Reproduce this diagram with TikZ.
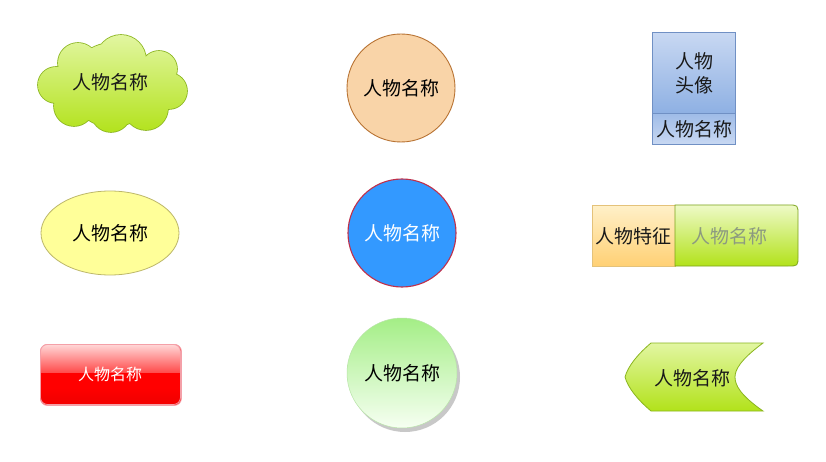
\documentclass[tikz,border=0pt]{standalone}
\usepackage{fontspec}
\newfontfamily\cjk{Noto Sans CJK SC}
\usetikzlibrary{shapes.symbols,shapes.geometric,shadows}
\definecolor{gtop}{HTML}{E2F6A2}
\definecolor{gbot}{HTML}{B2E21A}
\definecolor{gline}{HTML}{8AB51E}
\definecolor{orfill}{HTML}{F9D4A8}
\definecolor{orline}{HTML}{B87333}
\definecolor{btop}{HTML}{C8D8F2}
\definecolor{bbot}{HTML}{8EB0E3}
\definecolor{bline}{HTML}{7090C4}
\definecolor{yfill}{HTML}{FFFF99}
\definecolor{yline}{HTML}{BDB86A}
\definecolor{bluefill}{HTML}{3399FF}
\definecolor{blueline}{HTML}{C0304A}
\definecolor{otop}{HTML}{FFF0C8}
\definecolor{obot}{HTML}{FFD074}
\definecolor{oline}{HTML}{E4C27A}
\definecolor{gtxt}{HTML}{8C9A80}
\definecolor{redline}{HTML}{F4A0A8}
\definecolor{ctop}{HTML}{A4EE86}
\definecolor{cbot}{HTML}{F6FFF2}
\definecolor{cline}{HTML}{B8E4A8}
\newcommand{\cloudpuffs}{(78,63) circle (20) (121,60) circle (25) (159,69) circle (18) (169,91) circle (18) (146,108) circle (22) (111,112) circle (20) (74,106) circle (20) (56,85) circle (18) (112,85) circle (42)}
\begin{document}
\begin{tikzpicture}[x=1pt,y=-1pt,
  lbl/.style={font=\cjk\fontsize{19}{24}\selectfont, text=black!90, inner sep=0pt, align=center},
  bigcircle/.style={circle, minimum size=108pt, inner sep=0pt, line width=0.9pt, font=\cjk\fontsize{19}{24}\selectfont}]
\useasboundingbox (0,0) rectangle (826,462);
\fill[white] (0,0) rectangle (826,462);

% row 1: cloud
\draw[gline, line width=1.6pt] \cloudpuffs;
\begin{scope}
\clip \cloudpuffs;
\shade[top color=gtop, bottom color=gbot] (36,34) rectangle (190,134);
\end{scope}
\node[lbl] (cloudtxt) at (110,82) {人物名称};

\node[bigcircle, fill=orfill, draw=orline] (orange) at (401,88) {人物名称};

\node[draw=bline, line width=0.8pt, top color=btop, bottom color=bbot, minimum width=83pt, minimum height=81pt, anchor=north west, inner sep=0pt] (head) at (652,32) {};
\node[draw=bline, line width=0.8pt, top color=bbot!70!btop, bottom color=btop, minimum width=83pt, minimum height=31pt, anchor=north west, inner sep=0pt] (namebox) at (652,113) {};
\node[lbl] (headtxt) at (694,73) {人物\\头像};
\node[lbl] (nametxt) at (694,129) {人物名称};

% row 2
\node[ellipse, minimum width=138pt, minimum height=84pt, fill=yfill, draw=yline, line width=0.8pt, font=\cjk\fontsize{19}{24}\selectfont] (ellip) at (110,233) {人物名称};

\node[bigcircle, fill=bluefill, draw=blueline, line width=1.1pt, text=white] (blue) at (402,233) {人物名称};

\node[draw=oline, line width=0.8pt, top color=otop, bottom color=obot, minimum width=83pt, minimum height=61pt, anchor=north west, inner sep=0pt] (feat) at (592,205) {};
\shade[top color=gtop!60!white, bottom color=gbot] (675,205) -- (788,205) .. controls (798,205) .. (798,215) -- (798,256) .. controls (798,266) .. (788,266) -- (675,266) -- cycle;
\draw[gline!90!black, line width=0.8pt] (675,205) -- (788,205) .. controls (798,205) .. (798,215) -- (798,256) .. controls (798,266) .. (788,266) -- (675,266) -- cycle;
\node[lbl] (feattxt) at (633,236) {人物特征};
\node[lbl, text=gtxt] (gname) at (729,236) {人物名称};

% row 3
\node[rounded corners=7pt, minimum width=141pt, minimum height=61pt, fill=red, draw=redline, line width=0.8pt, anchor=north west, inner sep=0pt] (btn) at (40,344) {};
\begin{scope}
\clip[rounded corners=7pt] (40.5,344.5) rectangle (180.5,404.5);
\shade[top color=red!15!white, bottom color=red!70!white] (40,344) rectangle (181,372);
\fill[red!96!black] (40,398) rectangle (181,405);
\shade[top color=red, bottom color=red!96!black] (40,388) rectangle (181,398);
\end{scope}
\draw[redline, line width=0.8pt, rounded corners=7pt] (40.5,344.5) rectangle (180.5,404.5);
\node[lbl, text=white, font=\cjk\fontsize{16}{20}\selectfont] (btntxt) at (110,374) {人物名称};

\node[bigcircle, minimum size=110pt, top color=ctop, bottom color=cbot, draw=cline, line width=0.5pt, drop shadow={shadow xshift=3pt, shadow yshift=-4pt, fill=black!30, opacity=0.7}] (green) at (402,373) {人物名称};

\shade[top color=gtop, bottom color=gbot] (651,343) -- (763,343) .. controls (740,360) and (735,370) .. (735,377) .. controls (735,385) and (740,395) .. (763,411) -- (651,411) .. controls (638,400) and (628,388) .. (625,377) .. controls (628,366) and (638,354) .. (651,343) -- cycle;
\draw[gline, line width=0.8pt] (651,343) -- (763,343) .. controls (740,360) and (735,370) .. (735,377) .. controls (735,385) and (740,395) .. (763,411) -- (651,411) .. controls (638,400) and (628,388) .. (625,377) .. controls (628,366) and (638,354) .. (651,343) -- cycle;
\node[lbl] (chevtxt) at (692,378) {人物名称};
\end{tikzpicture}
\end{document}
